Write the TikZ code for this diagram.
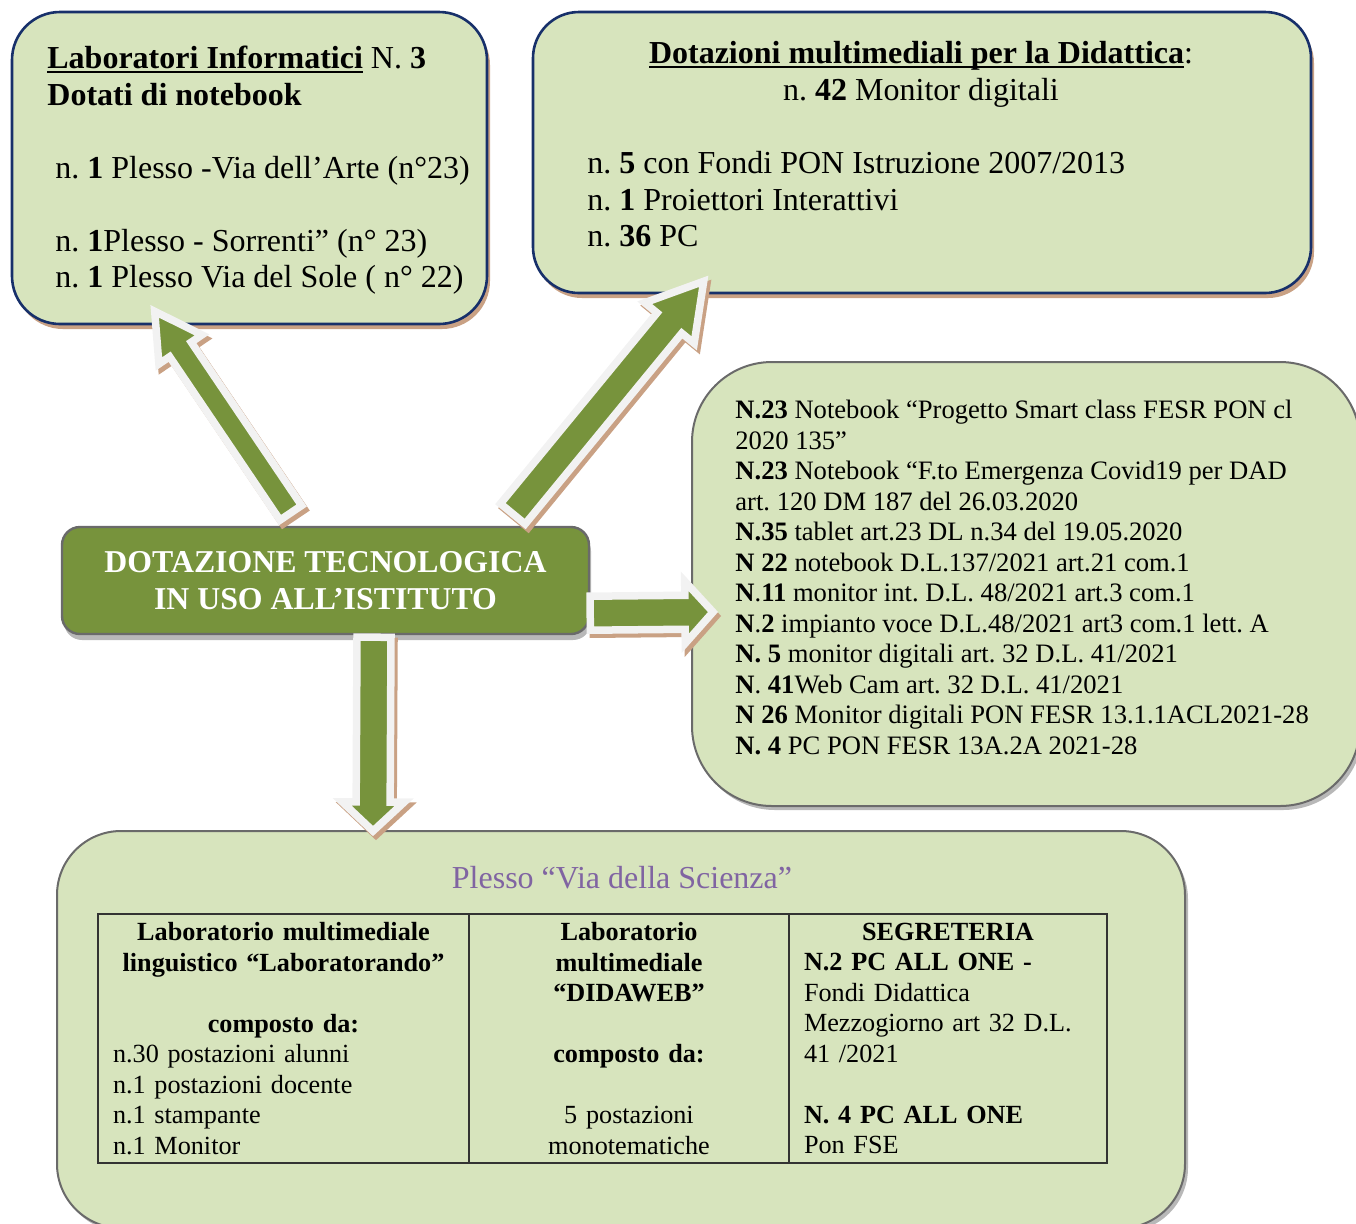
\documentclass[tikz,border=0pt]{standalone}
\usepackage{fontspec}
\setmainfont{Liberation Serif}
\usetikzlibrary{calc,shadows}

\definecolor{verdechiaro}{HTML}{D7E4BD}
\definecolor{verdeoliva}{HTML}{77933C}
\definecolor{blunotte}{HTML}{17306A}
\definecolor{marrone}{HTML}{C9A184}
\definecolor{grigio}{HTML}{6A6A6A}
\definecolor{grigiochiaro}{HTML}{B8B8B8}
\definecolor{bianco}{HTML}{F2F2F2}
\definecolor{viola}{HTML}{8064A2}

\frenchspacing
\newcommand{\grande}{\fontsize{16}{18.25}\selectfont}
\newcommand{\piccolo}{\fontsize{13.3}{15.25}\selectfont}
\newcommand{\sottolinea}[1]{\setbox0\hbox{#1}\rlap{\rule[-2pt]{\wd0}{1pt}}\box0\relax}

\newcommand{\freccia}[5]{%
  \coordinate (punta) at ($(#2)!#5!(#1)$);
  \draw[freccia] ($(#1)!#3!90:(#2)$) -- ($(punta)!#3!-90:(#1)$) -- ($(punta)!#4!-90:(#1)$) -- (#2)
    -- ($(punta)!#4!90:(#1)$) -- ($(punta)!#3!90:(#1)$) -- ($(#1)!#3!-90:(#2)$) -- cycle;}

\tikzset{
  riquadro/.style={rectangle, rounded corners=24pt, inner sep=0pt, fill=verdechiaro, draw=blunotte, line width=1.3pt,
    drop shadow={opacity=1, fill=marrone, shadow xshift=1.5pt, shadow yshift=-2.5pt}},
  riquadrogrigio/.style={rectangle, inner sep=0pt, fill=verdechiaro, draw=grigio, line width=1pt,
    drop shadow={opacity=1, fill=grigiochiaro, shadow xshift=1.5pt, shadow yshift=-2pt}},
  centrale/.style={rectangle, rounded corners=9pt, fill=verdeoliva, draw=grigio, line width=1.2pt, text=white,
    font=\bfseries\fontsize{15.9}{18.5}\selectfont, align=center,
    drop shadow={opacity=1, fill=grigiochiaro, shadow xshift=1pt, shadow yshift=-3pt}},
  testo/.style={inner sep=0pt, align=left, font=\grande},
  cella/.style={rectangle, draw=black!80, line width=0.6pt, inner xsep=7.5pt, inner ysep=0pt,
    minimum height=124.5pt, align=left, font=\fontsize{13.1}{15.25}\selectfont},
  freccia/.style={fill=verdeoliva, draw=bianco, line width=3.75pt,
    preaction={fill=marrone, draw=marrone, line width=3.75pt, transform canvas={shift={(1.5pt,-2pt)}}}}
}

\begin{document}
\begin{tikzpicture}[x=0.5pt,y=-0.5pt]
\useasboundingbox (0,0) rectangle (1356,1223);

\node[riquadro, minimum width=237.5pt, minimum height=156pt] (lab) at (249.5,168) {};
\node[riquadro, rounded corners=23pt, minimum width=389pt, minimum height=140.5pt] (mult) at (922,152.5) {};
\node[riquadrogrigio, rounded corners=40pt, minimum width=334pt, minimum height=222pt] (fondi) at (1026,584) {};
\node[riquadrogrigio, rounded corners=32pt, minimum width=564pt, minimum height=198.5pt] (plesso) at (621,1029.5) {};
\node[centrale, minimum width=263.5pt, minimum height=53.5pt] (dot) at (325.5,580.5) {DOTAZIONE TECNOLOGICA\\IN USO ALL’ISTITUTO};

\node[testo, anchor=north west] (labtesto) at (47,46) {\sottolinea{\textbf{Laboratori Informatici}} N. \textbf{3}\\
\textbf{Dotati di notebook}\\ \mbox{}\\
\hspace*{4pt}n. \textbf{1} Plesso -Via dell’Arte (n°23)\\ \mbox{}\\
\hspace*{4pt}n. \textbf{1}Plesso - Sorrenti” (n° 23)\\
\hspace*{4pt}n. \textbf{1} Plesso Via del Sole ( n° 22)};

\node[testo, anchor=north, align=center] (multtitolo) at (921,41) {\sottolinea{\textbf{Dotazioni multimediali per la Didattica}}:\\
n. \textbf{42} Monitor digitali};
\node[testo, anchor=north west] (multtesto) at (587,151) {n. \textbf{5} con Fondi PON Istruzione 2007/2013\\
n. \textbf{1} Proiettori Interattivi\\
n. \textbf{36} PC};

\node[testo, font=\piccolo, anchor=north west] (fonditesto) at (735,400) {\textbf{N.23} Notebook “Progetto Smart class FESR PON cl\\
2020 135”\\
\textbf{N.23} Notebook “F.to Emergenza Covid19 per DAD\\
art. 120 DM 187 del 26.03.2020\\
\textbf{N.35} tablet art.23 DL n.34 del 19.05.2020\\
\textbf{N 22} notebook D.L.137/2021 art.21 com.1\\
\textbf{N}.\textbf{11} monitor int. D.L. 48/2021 art.3 com.1\\
\textbf{N}.\textbf{2} impianto voce D.L.48/2021 art3 com.1 lett. A\\
\textbf{N. 5} monitor digitali art. 32 D.L. 41/2021\\
\textbf{N}. \textbf{41}Web Cam art. 32 D.L. 41/2021\\
\textbf{N 26} Monitor digitali PON FESR 13.1.1ACL2021-28\\
\textbf{N. 4} PC PON FESR 13A.2A 2021-28};

\node[testo, text=viola, anchor=base] (plessotitolo) at (622,888) {Plesso “Via della Scienza”};

\node[cella, text width=170.5pt] (linguistico) at (283.5,1038.5) {{\centering\bfseries Laboratorio multimediale\\
linguistico “Laboratorando”\\ \mbox{}\\ composto da:\par}
n.30 postazioni alunni\\ n.1 postazioni docente\\ n.1 stampante\\ n.1 Monitor};
\node[cella, text width=145pt] (didaweb) at (629,1038.5) {{\centering\bfseries Laboratorio\\ multimediale\\ “DIDAWEB”\\ \mbox{}\\
composto da:\\ \mbox{}\\ \mdseries 5 postazioni\\ monotematiche\par}};
\node[cella, text width=144pt] (segreteria) at (948,1038.5) {{\centering\bfseries SEGRETERIA\par}
\textbf{N.2 PC ALL ONE -}\\ Fondi Didattica\\ Mezzogiorno art 32 D.L.\\ 41 /2021\\ \mbox{}\\
\textbf{N. 4 PC ALL ONE}\\ Pon FSE};

\coordinate (a1) at ($(dot.north west)+(230,-13)$);
\coordinate (b1) at ($(lab.south west)+(144,-14)$);
\coordinate (a2) at ($(dot.north west)+(452,-12)$);
\coordinate (b2) at ($(mult.south west)+(172,-13)$);
\coordinate (a3) at ($(dot.south east)+(0,-22)$);
\coordinate (b3) at ($(fondi.west)+(22,28)$);
\coordinate (a4) at ($(dot.south)+(48.5,2)$);
\coordinate (b4) at ($(plesso.north west)+(317,1)$);
\freccia{a1}{b1}{6.5pt}{13pt}{23pt}
\freccia{a2}{b2}{8pt}{16pt}{27pt}
\freccia{a3}{b3}{8.5pt}{15.5pt}{14pt}
\freccia{a4}{b4}{8.5pt}{15.5pt}{14.5pt}
\end{tikzpicture}
\end{document}
